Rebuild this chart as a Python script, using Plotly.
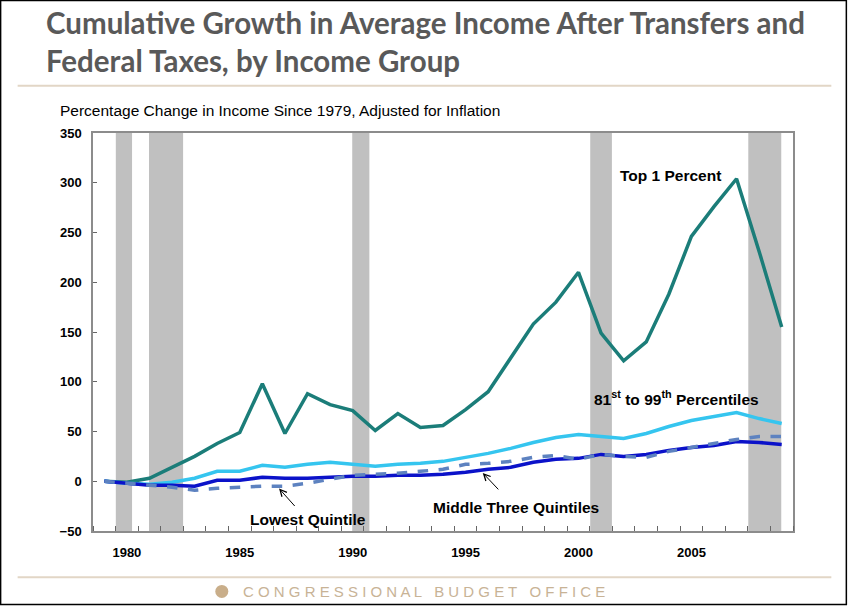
import plotly.graph_objects as go

years = list(range(1979, 2010))
top1 = [0, -1, 3, 14, 25, 38, 49, 98, 48, 88, 77, 71, 51, 68, 54, 56, 72, 90, 124, 158, 180, 210, 149, 121, 140, 188, 246, 276, 304, 231, 155]
p81_99 = [0, -2, -3, -1, 3, 10, 10, 16, 14, 17, 19, 17, 15, 17, 18, 20, 24, 28, 33, 39, 44, 47, 45, 43, 48, 55, 61, 65, 69, 63, 58]
middle = [0, -2, -4, -4, -5, 1, 1, 4, 3, 3, 4, 5, 5, 6, 6, 7, 9, 12, 14, 19, 22, 23, 27, 25, 27, 31, 34, 36, 40, 39, 37]
lowest = [0, -2, -4, -6, -9, -7, -6, -5, -5, -2, 2, 6, 7, 8, 10, 12, 17, 18, 20, 24, 26, 22, 27, 25, 24, 30, 34, 38, 42, 45, 45]

rec_start = [1979.51, 1980.98, 1989.98, 2000.52, 2007.52]
rec_end = [1980.23, 1982.49, 1990.74, 2001.48, 2008.98]

xtick_vals = [1980, 1985, 1990, 1995, 2000, 2005]
ytick_vals = [-50, 0, 50, 100, 150, 200, 250, 300, 350]

W, H = 849, 607
L, R, T, B = 93.3, 792.7, 133.3, 530.7


def px(x):
    return (x - L) / (R - L)


def py(y):
    return (B - y) / (B - T)


fig = go.Figure()
fig.add_trace(go.Scatter(x=years, y=top1, mode="lines", line=dict(color="#1b7d79", width=3.5), name="Top 1 Percent"))
fig.add_trace(go.Scatter(x=years, y=p81_99, mode="lines", line=dict(color="#35c5ef", width=3.5), name="81st to 99th"))
fig.add_trace(go.Scatter(x=years, y=middle, mode="lines", line=dict(color="#0b12c9", width=3.5), name="Middle"))
fig.add_trace(go.Scatter(x=years, y=lowest, mode="lines", line=dict(color="#5d82c0", width=3.5, dash="dash"), name="Lowest"))

shapes = []
for s, e in zip(rec_start, rec_end):
    shapes.append(dict(type="rect", xref="x", yref="paper", x0=s, x1=e, y0=0, y1=1,
                       fillcolor="#c0c0c0", line=dict(width=0), layer="below"))
# rules
for yy in (86, 577):
    shapes.append(dict(type="line", xref="paper", yref="paper", x0=px(18), x1=px(831), y0=py(yy), y1=py(yy),
                       line=dict(color="#e2d6c6", width=2)))
# frame
shapes.append(dict(type="rect", xref="paper", yref="paper", x0=px(1), x1=px(846), y0=py(1), y1=py(604),
                   line=dict(color="black", width=1.5), fillcolor="rgba(0,0,0,0)"))
# logo
shapes.append(dict(type="circle", xref="paper", yref="paper", x0=px(215.5), x1=px(228.5), y0=py(584.5), y1=py(597.5),
                   fillcolor="#c9ae8a", line=dict(width=0)))

lab_font = dict(family="Liberation Sans, Arial", size=15.5, color="black", weight="bold")
annotations = [
    dict(xref="paper", yref="paper", x=px(44), y=py(42), xanchor="left", yanchor="middle", align="left",
         text="Cumulative Growth in Average Income After Transfers and<br>Federal Taxes, by Income Group",
         showarrow=False, font=dict(family="Lato", size=29.5, color="#595959", weight="bold")),
    dict(xref="paper", yref="paper", x=px(58), y=py(111), xanchor="left", yanchor="middle",
         text="Percentage Change in Income Since 1979, Adjusted for Inflation", showarrow=False,
         font=dict(family="Liberation Sans, Arial", size=15.5, color="black")),
    dict(xref="paper", yref="paper", x=px(424), y=py(591), xanchor="center", yanchor="middle",
         text="C O N G R E S S I O N A L &nbsp; B U D G E T &nbsp; O F F I C E", showarrow=False,
         font=dict(family="Liberation Sans, Arial", size=15, color="#c8b396")),
    dict(x=2004.06, y=307, text="Top 1 Percent", showarrow=False, font=lab_font),
    dict(x=2004.33, y=83.5, text="81<sup>st</sup> to 99<sup>th</sup> Percentiles", showarrow=False, font=lab_font),
    dict(x=1997.22, y=-25.9, text="Middle Three Quintiles", showarrow=False, font=lab_font),
    dict(x=1988.0, y=-38.2, text="Lowest Quintile", showarrow=False, font=lab_font),
    dict(x=1986.74, y=-7.3, ax=17, ay=19, text="", showarrow=True, arrowhead=5, arrowsize=1.3,
         arrowwidth=1, arrowcolor="black"),
    dict(x=1995.76, y=8.4, ax=17, ay=18, text="", showarrow=True, arrowhead=5, arrowsize=1.3,
         arrowwidth=1, arrowcolor="black"),
]

tick_font = dict(family="Liberation Sans, Arial", size=13, color="black", weight="bold")
fig.update_layout(
    width=W, height=H,
    margin=dict(l=L, r=W - R, t=T, b=H - B, pad=0),
    paper_bgcolor="white", plot_bgcolor="white",
    showlegend=False,
    shapes=shapes, annotations=annotations,
    xaxis=dict(range=[1978.5, 2009.5], tickvals=xtick_vals, ticks="", showgrid=False, zeroline=False,
               showline=True, linecolor="#8c8c8c", linewidth=1.5, mirror=True, tickfont=tick_font,
               ticklabelstandoff=9,
               minor=dict(tick0=1979.5, dtick=1, ticks="inside", ticklen=5, tickcolor="#666", showgrid=False)),
    yaxis=dict(range=[-50, 350], tickvals=ytick_vals, ticks="inside", ticklen=4, tickcolor="#666",
               showgrid=False, zeroline=False, showline=True, linecolor="#8c8c8c", linewidth=1.5, mirror=True,
               tickfont=tick_font, ticklabelstandoff=7),
)
fig.write_html("out.html", config={"displayModeBar": False},
               post_script="document.body.style.margin='0';document.body.style.padding='0';")
